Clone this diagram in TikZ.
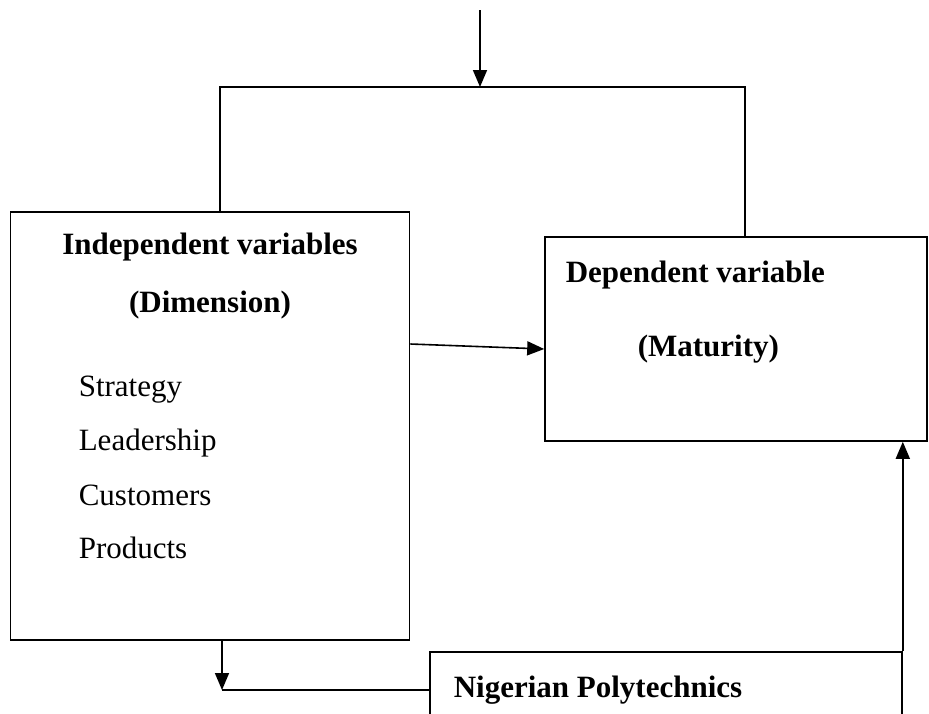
\documentclass[tikz,border=0pt]{standalone}
\usepackage{fontspec}
\setmainfont{Liberation Serif}
\usetikzlibrary{arrows.meta}

\begin{document}
\begin{tikzpicture}[x=1pt,y=-1pt,line width=1.6pt,
  box/.style={draw,rectangle,inner sep=0pt},
  head/.style={font=\fontsize{31}{36}\selectfont\bfseries,inner sep=0pt},
  item/.style={font=\fontsize{31}{36}\selectfont,anchor=west,inner sep=0pt},
  arr/.style={-{Triangle[length=17pt,width=14pt]}}]
\path[use as bounding box,clip] (0,0) rectangle (929,713);
% boxes
\node[box,minimum width=399pt,minimum height=428pt] (indep) at (210,426) {};
\node[box,minimum width=382pt,minimum height=204pt] (dep) at (736,339) {};
\node[box,minimum width=472pt,minimum height=122pt] (poly) at (666,713) {};
% texts
\node[head] (indeptitle) at (210,247) {Independent variables};
\node[head] (indepdim) at (210,305) {(Dimension)};
\node[item] (strat) at (78,390) {Strategy};
\node[item] (lead) at (78,443) {Leadership};
\node[item] (cust) at (78,495) {Customers};
\node[item] (prod) at (78,548) {Products};
\node[head,anchor=west] (deptitle) at (565,275) {Dependent variable};
\node[head,anchor=west] (depmat) at (637,349) {(Maturity)};
\node[head,anchor=west] (polytitle) at (453,690) {Nigerian Polytechnics};
% connectors
\coordinate (top) at (480,10);
\coordinate (join) at (480,87);
\coordinate (jl) at (220,87);
\coordinate (jr) at (745,87);
\coordinate (corner) at (222,690);
\draw[arr] (top) -- (join);
\draw (indep.north -| jl) -- (jl) -- (jr) -- (dep.north -| jr);
\draw[arr] ([yshift=82pt]indep.east) -- ([yshift=-10pt]dep.west);
\draw[arr] (indep.south -| corner) -- (corner);
\draw (corner) -- (poly.west |- corner);
\draw[arr] (poly.north east) -- (dep.south -| poly.north east);
\end{tikzpicture}
\end{document}
